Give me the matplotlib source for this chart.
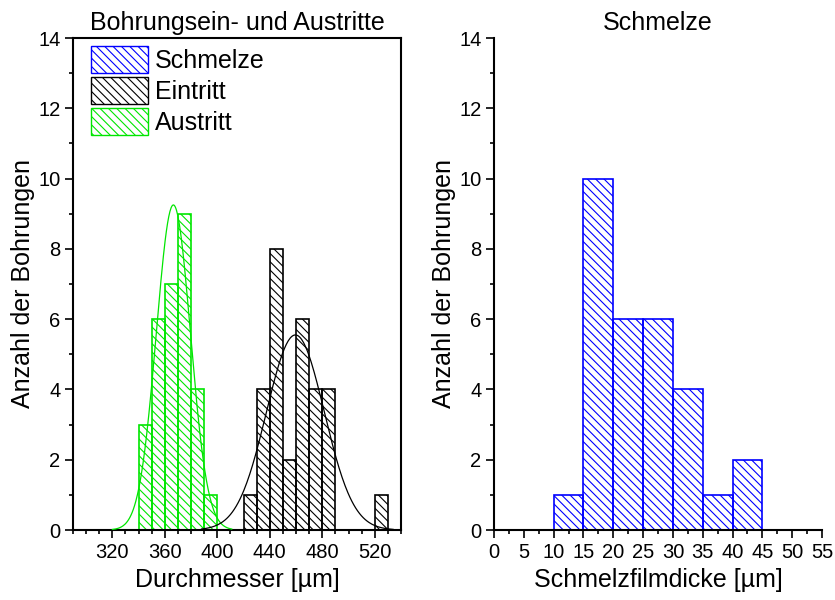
import numpy as np
import matplotlib.pyplot as plt
from matplotlib.patches import Patch
from matplotlib.ticker import MultipleLocator

plt.rcParams['font.family'] = ['Liberation Sans', 'DejaVu Sans']
plt.rcParams['hatch.linewidth'] = 0.8

# --- Daten ---
# Austritt (grün), Klassenbreite 10 µm
austritt_left = [340, 350, 360, 370, 380, 390]
austritt_count = [3, 6, 7, 9, 4, 1]
# Eintritt (schwarz)
eintritt_left = [420, 430, 440, 450, 460, 470, 480, 520]
eintritt_count = [1, 4, 8, 2, 6, 4, 4, 1]
# Schmelzfilmdicke, Klassenbreite 5 µm
schmelze_left = [10, 15, 20, 25, 30, 35, 40]
schmelze_count = [1, 10, 6, 6, 4, 1, 2]

# Gauss-Fits (Amplitude, Mittelwert, Sigma)
fit_austritt = (9.25, 366.5, 13.0)
fit_eintritt = (5.55, 459.5, 22.0)

green = '#00e600'
blue = '#0000ff'
HATCH = '\\\\\\\\'


def gauss(x, a, mu, s):
    return a * np.exp(-0.5 * ((x - mu) / s) ** 2)


def style_axis(ax, ylabel):
    ax.set_ylim(0, 14)
    ax.yaxis.set_major_locator(MultipleLocator(2))
    ax.yaxis.set_minor_locator(MultipleLocator(1))
    ax.tick_params(which='both', direction='out', labelsize=14.5, width=1.2, pad=3)
    ax.tick_params(which='major', length=6)
    ax.tick_params(which='minor', length=3)
    ax.tick_params(top=False, right=False)
    ax.set_ylabel(ylabel, fontsize=18, labelpad=2)
    for sp in ax.spines.values():
        sp.set_linewidth(1.5)


fig = plt.figure(figsize=(8.35, 6.0), dpi=100)
ax1 = fig.add_axes([73 / 835, 70 / 600, 328 / 835, 492 / 600])
ax2 = fig.add_axes([494 / 835, 70 / 600, 328 / 835, 492 / 600])

# --- links ---
ax1.bar(austritt_left, austritt_count, width=10, align='edge', facecolor='none',
        edgecolor=green, linewidth=1.2, hatch=HATCH, zorder=2)
ax1.bar(eintritt_left, eintritt_count, width=10, align='edge', facecolor='none',
        edgecolor='black', linewidth=1.2, hatch=HATCH, zorder=2)
xg = np.linspace(320, 411, 200)
ax1.plot(xg, gauss(xg, *fit_austritt), color=green, lw=0.9, zorder=3)
xe = np.linspace(388, 534, 200)
ax1.plot(xe, gauss(xe, *fit_eintritt), color='black', lw=0.9, zorder=3)
ax1.set_xlim(290, 540)
ax1.set_xticks([320, 360, 400, 440, 480, 520])
ax1.xaxis.set_minor_locator(MultipleLocator(10))
style_axis(ax1, 'Anzahl der Bohrungen')
ax1.set_xlabel('Durchmesser [µm]', fontsize=18, labelpad=5)
ax1.set_title('Bohrungsein- und Austritte', fontsize=18, pad=6)

handles = [Patch(facecolor='none', edgecolor=blue, hatch=HATCH, label='Schmelze'),
           Patch(facecolor='none', edgecolor='black', hatch=HATCH, label='Eintritt'),
           Patch(facecolor='none', edgecolor=green, hatch=HATCH, label='Austritt')]
ax1.legend(handles=handles, loc='upper left', frameon=False, fontsize=18,
           bbox_to_anchor=(91 / 835, 1 - 46 / 600), bbox_transform=fig.transFigure,
           handlelength=2.28, handleheight=1.3, handletextpad=0.28,
           labelspacing=0.14, borderaxespad=0, borderpad=0)

# --- rechts ---
ax2.bar(schmelze_left, schmelze_count, width=5, align='edge', facecolor='none',
        edgecolor=blue, linewidth=1.2, hatch=HATCH, zorder=2)
ax2.set_xlim(0, 55)
ax2.xaxis.set_major_locator(MultipleLocator(5))
ax2.xaxis.set_minor_locator(MultipleLocator(2.5))
style_axis(ax2, 'Anzahl der Bohrungen')
ax2.spines['top'].set_visible(False)
ax2.spines['right'].set_visible(False)
ax2.set_xlabel('Schmelzfilmdicke [µm]', fontsize=18, labelpad=5)
ax2.set_title('Schmelze', fontsize=18, pad=6)

fig.savefig('out.png', dpi=100)
